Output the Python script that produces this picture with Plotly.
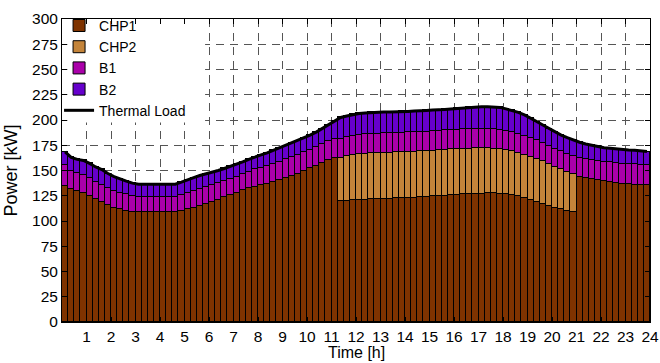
import plotly.graph_objects as go

# 96 quarter-hour intervals over 24 h
n_bars = 96
hour_ticks = list(range(1, 25))
power_ticks = list(range(0, 301, 25))

chp1 = [135, 132, 130, 128, 125, 122, 118.5, 115.5, 113, 111.5, 110, 109,
        108.5, 108.5, 108.5, 108.5, 108.5, 108.5, 108.5,
        110, 111.5, 113, 115, 117, 119, 121, 123.5, 126, 128, 130.5, 132.5, 134,
        135.5, 137, 138.5, 140.5, 143, 145, 147, 149.5, 152, 154.5, 157.5, 160, 162,
        119.5, 120, 120.5, 121, 121, 121.5, 121.5, 122, 122, 122.5,
        122.5, 123, 123, 123.5, 124, 124.5, 124.5, 125, 125.5, 126,
        126.5, 126.5, 127, 127, 127.5, 127.5, 127, 126.5, 126, 124.5,
        122.5, 120.5, 119, 117, 115, 113, 111.5, 110, 108.5,
        144, 142.8, 141.8, 140.8, 139.5, 138.5, 137.9, 136.9, 136.3, 136, 135.6, 135.3]

chp2 = [0] * 45 + [
        42.5, 44.5, 45, 45, 45.5, 45.5, 45.5, 45.5, 45.5, 45.5,
        45.5, 45.5, 45.5, 45.5, 45, 45, 45.5, 45.5, 45.5, 45,
        45, 45, 45, 45, 44.5, 44, 44, 43.5, 43, 42.5,
        42.5, 42.5, 42, 42, 41, 40, 39.5, 39, 38.5] + [0] * 12

b1 = [20.5, 18, 18, 18, 17.5, 17, 17.5, 17, 17, 16.5, 16.5, 16,
      15.5, 15.5, 15.5, 15.5, 15.5, 15.5, 15.5,
      15.5, 16.5, 16.5, 16.5, 16.5, 16.5, 16.5, 16, 15.5, 16, 16, 16.5, 17,
      17, 17, 17.5, 17.5, 18, 18, 18, 18.5, 18.5, 19, 19, 19.5, 19.5,
      19, 19, 19] + [19.5] * 28 + [
      19, 19, 18.5, 18.5, 18, 18, 17.5, 17,
      18, 18.5, 18.5, 19, 19, 19.5, 19.5, 19.5, 20, 20, 20, 20]

b2 = [13, 13, 13, 14, 14.5, 14.5, 15, 14.5, 14, 13.5, 13, 12.5,
      12.5, 12.5, 12.5, 12.5, 12.5, 12.5, 12.5,
      13, 13, 13.5, 13.5, 13, 12.5, 12.5, 12.5, 12.5, 12, 12, 12, 12.5,
      13, 13.5, 14, 14, 13.5, 14, 14.5, 14, 14.5, 14.5, 15, 15.5, 17.5,
      21.5, 20.5, 21, 21, 21, 21, 21, 21, 21, 20.5, 21, 20.5, 21, 20.5, 21, 21,
      20.5, 20.5, 20.5, 21, 21, 21.5, 21, 21.5, 21.5, 22, 22, 21.5, 21, 21, 20.5,
      20, 18.5, 17.5, 17, 17, 16, 16, 16,
      16, 15, 14.5, 14, 14, 14, 14, 14, 14, 14, 14, 13.5]

x = [(i + 0.5) * 24 / n_bars for i in range(n_bars)]
load = [a + b + c + d for a, b, c, d in zip(chp1, chp2, b1, b2)]

colors = {"CHP1": "#7f3300", "CHP2": "#c4843a", "B1": "#aa00aa", "B2": "#6600cc"}

fig = go.Figure()
for name, vals in [("CHP1", chp1), ("CHP2", chp2), ("B1", b1), ("B2", b2)]:
    fig.add_trace(go.Bar(x=x, y=vals, name=name, width=24 / n_bars,
                         marker=dict(color=colors[name], line=dict(color="black", width=1))))
fig.add_trace(go.Scatter(x=x, y=load, name="Thermal Load", mode="lines",
                         line=dict(color="black", width=3)))

axis_common = dict(showline=True, linecolor="black", linewidth=1, mirror="ticks",
                   ticks="inside", ticklen=5, tickcolor="black", showgrid=True,
                   gridcolor="#555555", griddash="8px,6px", gridwidth=1, zeroline=False,
                   automargin=False, tickfont=dict(size=15.5))

# white panel behind the legend entries (hides the grid in the legend area)
fig.add_shape(type="rect", xref="x", yref="y", x0=0.22, x1=5.84, y0=197.5, y1=295,
              fillcolor="white", line=dict(width=0), layer="above")

fig.update_layout(
    width=660, height=363,
    margin=dict(l=62, r=10, t=15, b=41),
    plot_bgcolor="white", paper_bgcolor="white",
    barmode="stack", bargap=0,
    font=dict(family="Liberation Sans, Arial, sans-serif", size=15, color="black"),
    legend=dict(x=-0.005, y=1.03, xanchor="left", yanchor="top", bgcolor="rgba(0,0,0,0)",
                borderwidth=0, traceorder="normal", font=dict(size=14),
                tracegroupgap=0, itemwidth=30),
    xaxis=dict(range=[0, 24], tickvals=hour_ticks, ticktext=[str(h) for h in hour_ticks],
               ticklabelstandoff=0, **axis_common),
    yaxis=dict(range=[0, 300], tickvals=power_ticks,
               title=dict(text="Power [kW]", standoff=9), **axis_common),
    annotations=[dict(text="Time [h]", xref="paper", yref="paper", x=0.5, y=-0.1,
                      xanchor="center", yanchor="middle", showarrow=False,
                      font=dict(size=16))],
)

fig.write_html("out.html")
